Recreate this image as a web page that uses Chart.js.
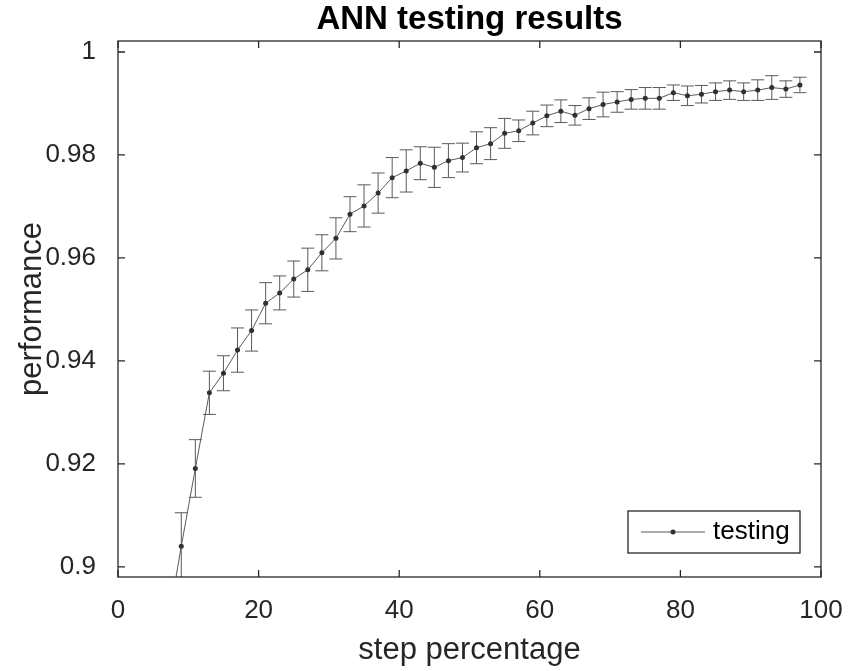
<!DOCTYPE html>
<html>
<head>
<meta charset="utf-8">
<script src="https://cdn.jsdelivr.net/npm/chart.js@4/dist/chart.umd.min.js"></script>
<style>
  html, body { margin: 0; padding: 0; background: #fff; }
  #wrap { width: 848px; height: 671px; }
</style>
</head>
<body>
<div id="wrap"><canvas id="ann-chart" width="848" height="671"></canvas></div>
<script>
const steps = [1, 3, 5, 7, 9, 11, 13, 15, 17, 19, 21, 23, 25, 27, 29, 31, 33, 35, 37, 39,
  41, 43, 45, 47, 49, 51, 53, 55, 57, 59, 61, 63, 65, 67, 69, 71, 73, 75, 77, 79,
  81, 83, 85, 87, 89, 91, 93, 95, 97];
const performance = [0.800, 0.830, 0.860, 0.888, 0.9040, 0.9191, 0.9338, 0.9376, 0.9421, 0.9459,
  0.9512, 0.9532, 0.9559, 0.9577, 0.9610, 0.9638, 0.9685, 0.9701, 0.9726, 0.9756,
  0.9769, 0.9784, 0.9776, 0.9789, 0.9795, 0.9814, 0.9822, 0.9842, 0.9847, 0.9862,
  0.9876, 0.9885, 0.9877, 0.9890, 0.9898, 0.9903, 0.9908, 0.9910, 0.9910, 0.9921,
  0.9915, 0.9918, 0.9923, 0.9926, 0.9923, 0.9926, 0.9931, 0.9928, 0.9936];
const errors = [0.008, 0.008, 0.008, 0.007, 0.0065, 0.0056, 0.0042, 0.0034, 0.0043, 0.0040,
  0.0040, 0.0033, 0.0035, 0.0042, 0.0035, 0.0040, 0.0034, 0.0041, 0.0039, 0.0039,
  0.0041, 0.0032, 0.0039, 0.0033, 0.0028, 0.0031, 0.0031, 0.0029, 0.0021, 0.0023,
  0.0021, 0.0022, 0.0019, 0.0021, 0.0024, 0.0020, 0.0019, 0.0021, 0.0021, 0.0015,
  0.0019, 0.0017, 0.0017, 0.0018, 0.0017, 0.0020, 0.0023, 0.0016, 0.0015];
const xTicks = [0, 20, 40, 60, 80, 100];
const yTicks = [0.9, 0.92, 0.94, 0.96, 0.98, 1];

const axisColor = '#262626';
const lineColor = '#5a5a5a';
const markerColor = '#303030';
const fontFamily = '"Liberation Sans", Arial, Helvetica, sans-serif';

// error bars, drawn under the line and markers
const errorBars = {
  id: 'errorBars',
  beforeDatasetsDraw(chart) {
    const { ctx, chartArea, scales } = chart;
    ctx.save();
    ctx.beginPath();
    ctx.rect(chartArea.left, chartArea.top, chartArea.right - chartArea.left, chartArea.bottom - chartArea.top);
    ctx.clip();
    ctx.strokeStyle = lineColor;
    ctx.lineWidth = 1;
    steps.forEach((step, i) => {
      const x = scales.x.getPixelForValue(step);
      const top = scales.y.getPixelForValue(performance[i] + errors[i]);
      const bottom = scales.y.getPixelForValue(performance[i] - errors[i]);
      ctx.beginPath();
      ctx.moveTo(x, top);
      ctx.lineTo(x, bottom);
      ctx.moveTo(x - 6.5, top);
      ctx.lineTo(x + 6.5, top);
      ctx.moveTo(x - 6.5, bottom);
      ctx.lineTo(x + 6.5, bottom);
      ctx.stroke();
    });
    ctx.restore();
  },
};

// matlab style box with inward ticks, plus the legend
const axesBox = {
  id: 'axesBox',
  afterDraw(chart) {
    const { ctx, chartArea, scales } = chart;
    const { left, right, top, bottom } = chartArea;
    const tick = 7;
    ctx.save();
    ctx.strokeStyle = axisColor;
    ctx.lineWidth = 1.3;
    ctx.strokeRect(left, top, right - left, bottom - top);
    ctx.beginPath();
    xTicks.forEach((v) => {
      const x = scales.x.getPixelForValue(v);
      ctx.moveTo(x, bottom);
      ctx.lineTo(x, bottom - tick);
      ctx.moveTo(x, top);
      ctx.lineTo(x, top + tick);
    });
    yTicks.forEach((v) => {
      const y = scales.y.getPixelForValue(v);
      ctx.moveTo(left, y);
      ctx.lineTo(left + tick, y);
      ctx.moveTo(right, y);
      ctx.lineTo(right - tick, y);
    });
    ctx.stroke();

    // legend
    const boxRight = right - 21;
    const boxBottom = bottom - 24;
    const boxLeft = boxRight - 172;
    const boxTop = boxBottom - 42;
    const midY = (boxTop + boxBottom) / 2;
    ctx.fillStyle = '#fff';
    ctx.fillRect(boxLeft, boxTop, boxRight - boxLeft, boxBottom - boxTop);
    ctx.strokeStyle = axisColor;
    ctx.lineWidth = 1.3;
    ctx.strokeRect(boxLeft, boxTop, boxRight - boxLeft, boxBottom - boxTop);
    ctx.strokeStyle = lineColor;
    ctx.lineWidth = 1;
    ctx.beginPath();
    ctx.moveTo(boxLeft + 13, midY);
    ctx.lineTo(boxLeft + 77, midY);
    ctx.stroke();
    ctx.fillStyle = markerColor;
    ctx.beginPath();
    ctx.arc(boxLeft + 45, midY, 2.5, 0, Math.PI * 2);
    ctx.fill();
    ctx.fillStyle = '#000';
    ctx.font = '26px ' + fontFamily;
    ctx.textBaseline = 'middle';
    ctx.textAlign = 'left';
    ctx.fillText('testing', boxLeft + 85, midY);
    ctx.restore();
  },
};

new Chart(document.getElementById('ann-chart'), {
  type: 'line',
  data: {
    datasets: [
      {
        label: 'testing',
        data: steps.map((step, i) => ({ x: step, y: performance[i] })),
        borderColor: lineColor,
        borderWidth: 1,
        pointRadius: 2.5,
        pointBackgroundColor: markerColor,
        pointBorderWidth: 0,
        tension: 0,
        fill: false,
      },
    ],
  },
  options: {
    responsive: false,
    animation: false,
    events: [],
    layout: { padding: { left: 0, right: 27, top: 0, bottom: 0 } },
    plugins: {
      legend: { display: false },
      tooltip: { enabled: false },
      title: {
        display: true,
        fullSize: false,
        text: 'ANN testing results',
        color: '#000',
        font: { family: fontFamily, size: 33, weight: 'bold', lineHeight: 1.2 },
        padding: { top: 0, bottom: 1.4 },
      },
    },
    scales: {
      x: {
        type: 'linear',
        min: 0,
        max: 100,
        grid: { display: false },
        border: { display: false },
        afterBuildTicks: (scale) => {
          scale.ticks = xTicks.map((value) => ({ value }));
        },
        afterFit: (scale) => {
          scale.height = 94;
          scale.paddingLeft = 0;
          scale.paddingRight = 0;
        },
        ticks: {
          color: axisColor,
          padding: 10,
          font: { family: fontFamily, size: 26 },
          callback: (value) => String(value),
        },
        title: {
          display: true,
          text: 'step percentage',
          color: axisColor,
          padding: 2,
          font: { family: fontFamily, size: 31 },
        },
      },
      y: {
        type: 'linear',
        min: 0.89802,
        max: 1.00214,
        grid: { display: false },
        border: { display: false },
        afterBuildTicks: (scale) => {
          scale.ticks = yTicks.map((value) => ({ value }));
        },
        afterFit: (scale) => {
          scale.width = 118;
          scale.paddingTop = 0;
          scale.paddingBottom = 0;
        },
        ticks: {
          color: axisColor,
          padding: 14,
          font: { family: fontFamily, size: 26 },
          callback: (value) => String(Number(value.toFixed(2))),
        },
        title: {
          display: true,
          text: 'performance',
          color: axisColor,
          padding: 14,
          font: { family: fontFamily, size: 31 },
        },
      },
    },
  },
  plugins: [errorBars, axesBox],
});
</script>
</body>
</html>
